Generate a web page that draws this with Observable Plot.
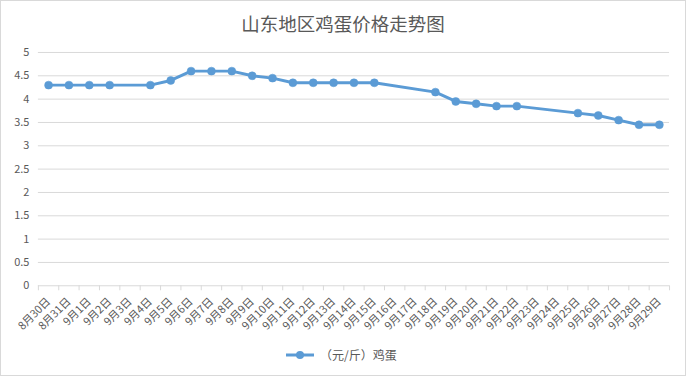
<!DOCTYPE html>
<html>
<head>
<meta charset="utf-8">
<script src="https://cdn.jsdelivr.net/npm/d3@7"></script>
<script src="https://cdn.jsdelivr.net/npm/@observablehq/plot@0.6"></script>
<style>
  html, body { margin: 0; padding: 0; background: #fff; }
  #wrap { position: relative; width: 686px; height: 376px; box-sizing: border-box; border: 1px solid #d9d9d9; background: #fff; font-family: "Noto Sans CJK SC", "Noto Sans", sans-serif; color: #595959; }
  #title { position: absolute; left: 0; right: 0; top: 9px; text-align: center; font-size: 18.5px; line-height: 26px; color: #595959; }
  #chart { position: absolute; left: -1px; top: 39px; }
  #legend { position: absolute; left: 285px; top: 345px; display: flex; align-items: center; font-size: 12px; color: #595959; }
  #legend svg { margin-right: 6px; }
</style>
</head>
<body>
<div id="wrap">
  <div id="title">山东地区鸡蛋价格走势图</div>
  <div id="chart"></div>
  <div id="legend"></div>
</div>
<script>
const dates = ["8月30日","8月31日","9月1日","9月2日","9月3日","9月4日","9月5日","9月6日","9月7日","9月8日","9月9日","9月10日","9月11日","9月12日","9月13日","9月14日","9月15日","9月16日","9月17日","9月18日","9月19日","9月20日","9月21日","9月22日","9月23日","9月24日","9月25日","9月26日","9月27日","9月28日","9月29日"];
const prices = [4.3,4.3,4.3,4.3,null,4.3,4.4,4.6,4.6,4.6,4.5,4.45,4.35,4.35,4.35,4.35,4.35,null,null,4.15,3.95,3.9,3.85,3.85,null,null,3.7,3.65,3.55,3.45,3.45];
const yTicks = [0,0.5,1,1.5,2,2.5,3,3.5,4,4.5,5];
const seriesName = "（元/斤）鸡蛋";

const data = dates.map((d, i) => ({date: d, price: prices[i]})).filter(d => d.price != null);

const W = 687, H = 300, mL = 38, mR = 16, mT = 12, mB = 54;
const bw = (W - mL - mR) / dates.length;
const blue = "#5b9bd5";
const grid = "#d9d9d9";

const chart = Plot.plot({
  width: W, height: H,
  marginLeft: mL, marginRight: mR, marginTop: mT, marginBottom: mB,
  style: {fontFamily: "'Noto Sans CJK SC', 'Noto Sans', sans-serif", fontSize: "11px", color: "#595959", background: "transparent", overflow: "visible"},
  x: {type: "band", domain: dates, padding: 0, round: false},
  y: {domain: [0, 5]},
  marks: [
    Plot.ruleY(yTicks, {stroke: grid, strokeWidth: 1}),
    Plot.axisY({ticks: yTicks, tickSize: 0, tickPadding: 9, label: null, tickFormat: d => String(d), fill: "#595959"}),
    Plot.axisX({ticks: dates, tickSize: 5, tickFormat: () => "", label: null, dx: -bw / 2, stroke: grid}),
    Plot.axisX({ticks: [dates[dates.length - 1]], tickSize: 5, tickFormat: () => "", label: null, dx: bw / 2, stroke: grid}),
    Plot.axisX({ticks: dates, tickSize: 0, tickPadding: 14, tickRotate: -45, label: null, fill: "#595959"}),
    Plot.line(data, {x: "date", y: "price", stroke: blue, strokeWidth: 3, strokeLinejoin: "round"}),
    Plot.dot(data, {x: "date", y: "price", r: 4, fill: blue, stroke: blue, strokeWidth: 0.5})
  ]
});
document.getElementById("chart").appendChild(chart);

const legend = document.getElementById("legend");
legend.innerHTML = `<svg width="28" height="10"><line x1="0" y1="5" x2="28" y2="5" stroke="${blue}" stroke-width="3"/><circle cx="14" cy="5" r="4" fill="${blue}"/></svg><span>${seriesName}</span>`;
</script>
</body>
</html>
